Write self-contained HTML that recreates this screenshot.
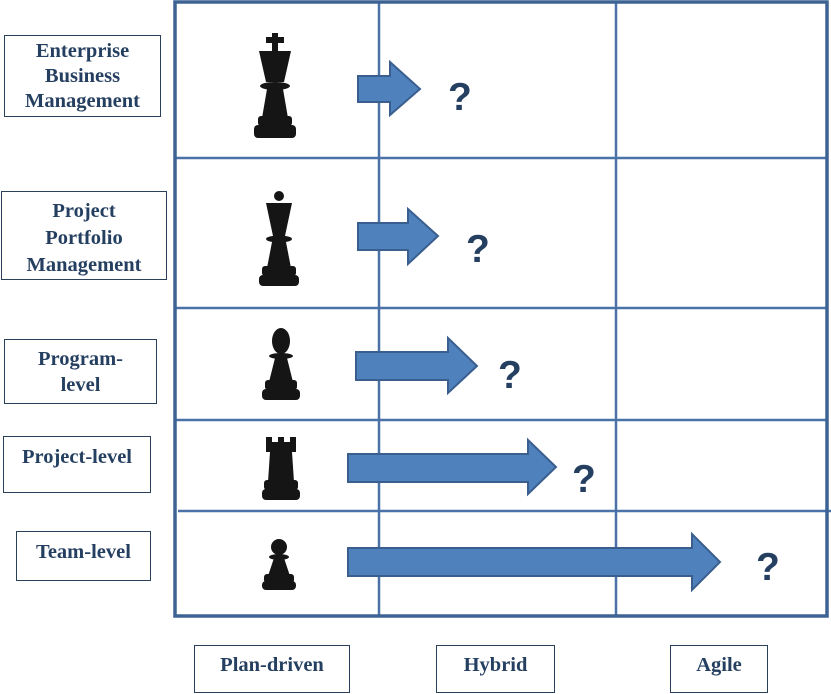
<!DOCTYPE html>
<html><head><meta charset="utf-8"><style>
body{margin:0;width:831px;height:694px;background:#fff;position:relative;overflow:hidden;font-family:"Liberation Serif",serif}
.b{position:absolute;border:1px solid #2a3f58;box-sizing:border-box;color:#243f60;font-weight:bold;font-size:20.5px;text-align:center;background:#fff;white-space:nowrap}
.q{font-family:"Liberation Sans",sans-serif;font-weight:bold;font-size:39px;fill:#243f60}
</style></head><body>
<svg width="831" height="694" style="position:absolute;left:0;top:0">
<g stroke="#4a72a8" stroke-width="2.5" fill="none">
<line x1="379" y1="2" x2="379" y2="617"/>
<line x1="616" y1="2" x2="616" y2="617"/>
<line x1="174" y1="158" x2="828" y2="158"/>
<line x1="174" y1="308" x2="828" y2="308"/>
<line x1="174" y1="420" x2="828" y2="420"/>
<line x1="178" y1="511" x2="831" y2="511"/>
</g>
<rect x="175" y="2" width="652" height="614" fill="none" stroke="#3d6394" stroke-width="3.5"/>
<g fill="#4f81bd" stroke="#3a5f8f" stroke-width="2">
<polygon points="358,76 390,76 390,62 420,89 390,115 390,102 358,102"/>
<polygon points="358,223 408,223 408,209 438,236 408,264 408,250 358,250"/>
<polygon points="356,352 448,352 448,338 477,366 448,393 448,380 356,380"/>
<polygon points="348,454 528,454 528,440 556,467 528,494 528,482 348,482"/>
<polygon points="348,548 692,548 692,534 720,562 692,590 692,576 348,576"/>
</g>
<text class="q" x="448" y="110">?</text>
<text class="q" x="466" y="262">?</text>
<text class="q" x="498" y="388">?</text>
<text class="q" x="572" y="492">?</text>
<text class="q" x="756" y="580">?</text>
<g fill="#151515">
<!-- king -->
<rect x="272" y="33" width="6" height="18"/><rect x="266" y="37" width="18" height="6"/>
<polygon points="259,51 291,51 284,82 266,82"/>
<ellipse cx="275" cy="86" rx="15" ry="4"/>
<polygon points="267,89 283,89 288,118 262,118"/>
<rect x="258" y="116" width="34" height="10" rx="3"/>
<rect x="254" y="125" width="42" height="13" rx="4"/>
<!-- queen -->
<circle cx="279" cy="196" r="5"/>
<polygon points="266,203 292,203 285,236 273,236"/>
<ellipse cx="279" cy="239" rx="13" ry="3.5"/>
<polygon points="272,242 286,242 291,268 267,268"/>
<rect x="262" y="266" width="34" height="10" rx="3"/>
<rect x="259" y="275" width="40" height="11" rx="4"/>
<!-- bishop -->
<ellipse cx="281" cy="341" rx="9" ry="13"/>
<ellipse cx="281" cy="356" rx="12" ry="3"/>
<polygon points="275,358 287,358 293,382 269,382"/>
<rect x="265" y="380" width="32" height="10" rx="3"/>
<rect x="262" y="389" width="38" height="11" rx="4"/>
<!-- rook -->
<polygon points="266,437 272,437 272,442 278,442 278,437 284,437 284,442 290,442 290,437 296,437 296,452 266,452"/>
<polygon points="270,452 292,452 294,482 268,482"/>
<rect x="264" y="480" width="34" height="10" rx="3"/>
<rect x="262" y="489" width="38" height="11" rx="4"/>
<!-- pawn -->
<circle cx="279" cy="547" r="8"/>
<ellipse cx="279" cy="557" rx="10" ry="3"/>
<polygon points="274,558 284,558 290,576 268,576"/>
<rect x="264" y="574" width="30" height="9" rx="3"/>
<rect x="262" y="581" width="34" height="9" rx="4"/>
</g>
</svg>
<div class="b" style="left:4px;top:35px;width:157px;height:82px;line-height:25px;padding-top:3px">Enterprise<br>Business<br>Management</div>
<div class="b" style="left:1px;top:191px;width:166px;height:89px;line-height:27px;padding-top:6px">Project<br>Portfolio<br>Management</div>
<div class="b" style="left:4px;top:339px;width:153px;height:65px;line-height:26px;padding-top:6px">Program-<br>level</div>
<div class="b" style="left:3px;top:436px;width:148px;height:57px;line-height:22px;padding-top:9px">Project-level</div>
<div class="b" style="left:16px;top:531px;width:135px;height:50px;line-height:22px;padding-top:9px">Team-level</div>
<div class="b" style="left:194px;top:645px;width:156px;height:48px;line-height:22px;padding-top:8px">Plan-driven</div>
<div class="b" style="left:436px;top:645px;width:119px;height:48px;line-height:22px;padding-top:8px">Hybrid</div>
<div class="b" style="left:670px;top:645px;width:98px;height:48px;line-height:22px;padding-top:8px">Agile</div>
</body></html>
